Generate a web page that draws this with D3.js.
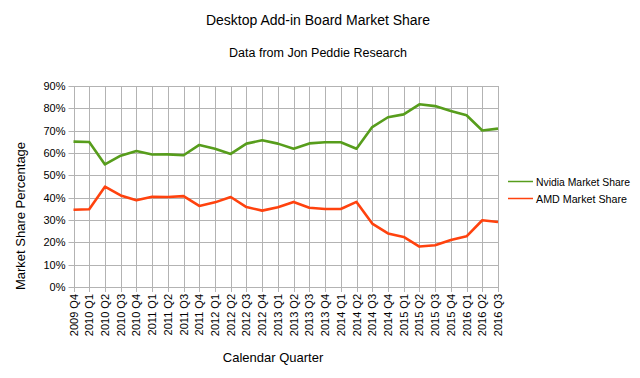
<!DOCTYPE html>
<html>
<head>
<meta charset="utf-8">
<script src="https://cdn.jsdelivr.net/npm/d3@7"></script>
<style>
  body { margin: 0; background: #fff; }
  svg { font-family: "Liberation Sans", Arial, sans-serif; }
</style>
</head>
<body>
<div class="chart"></div>
<script>
const quarters = ["2009 Q4", "2010 Q1", "2010 Q2", "2010 Q3", "2010 Q4", "2011 Q1", "2011 Q2", "2011 Q3",
    "2011 Q4", "2012 Q1", "2012 Q2", "2012 Q3", "2012 Q4", "2013 Q1", "2013 Q2", "2013 Q3", "2013 Q4",
    "2014 Q1", "2014 Q2", "2014 Q3", "2014 Q4", "2015 Q1", "2015 Q2", "2015 Q3", "2015 Q4", "2016 Q1",
    "2016 Q2", "2016 Q3"];
const nvidia = [65.1, 64.9, 54.9, 58.8, 60.9, 59.3, 59.4, 59.0, 63.6, 61.9, 59.6, 64.2, 65.7, 64.2,
    61.9, 64.3, 64.8, 64.8, 61.9, 71.6, 76.0, 77.3, 81.8, 81.0, 78.8, 76.9, 70.1, 70.9];
const amd = [34.6, 34.8, 44.9, 41.0, 38.8, 40.4, 40.3, 40.7, 36.3, 37.9, 40.3, 35.8, 34.2, 35.7,
    38.1, 35.5, 34.9, 34.9, 38.1, 28.4, 24.0, 22.4, 18.1, 18.7, 21.0, 22.7, 29.9, 29.1];
const yTicks = [0, 10, 20, 30, 40, 50, 60, 70, 80, 90];
const seriesNames = ["Nvidia Market Share", "AMD Market Share"];
const seriesColors = ["#579d1c", "#ff420e"];

const width = 640, height = 378;
const plotL = 73.5, plotR = 498, plotT = 86, plotB = 287;

const svg = d3.select(".chart").append("svg")
    .attr("width", width)
    .attr("height", height);

const x = d3.scalePoint().domain(quarters).range([plotL, plotR]);
const y = d3.scaleLinear().domain([0, 90]).range([plotB, plotT]);

// grid
svg.append("g").selectAll("line").data(yTicks).enter().append("line")
    .attr("x1", plotL - 5).attr("x2", plotR)
    .attr("y1", d => Math.round(y(d)) + 0.5).attr("y2", d => Math.round(y(d)) + 0.5)
    .attr("stroke", "#b3b3b3").attr("stroke-width", 1);
svg.append("g").selectAll("line").data(quarters).enter().append("line")
    .attr("x1", d => Math.round(x(d)) + 0.5).attr("x2", d => Math.round(x(d)) + 0.5)
    .attr("y1", plotT).attr("y2", plotB + 5)
    .attr("stroke", "#b3b3b3").attr("stroke-width", 1);

// y labels
svg.append("g").selectAll("text").data(yTicks).enter().append("text")
    .attr("x", plotL - 8).attr("y", d => y(d) + 4)
    .attr("text-anchor", "end").attr("font-size", 11).attr("fill", "#000")
    .text(d => d + "%");

// x labels
svg.append("g").selectAll("text").data(quarters).enter().append("text")
    .attr("transform", d => "translate(" + (x(d) + 4) + "," + (plotB + 7) + ") rotate(-90)")
    .attr("text-anchor", "end").attr("font-size", 11).attr("fill", "#000")
    .text(d => d);

// lines
const line = d3.line().x((d, i) => x(quarters[i])).y(d => y(d));
[nvidia, amd].forEach((s, k) => {
    svg.append("path").datum(s)
        .attr("d", line)
        .attr("fill", "none")
        .attr("stroke", seriesColors[k])
        .attr("stroke-width", 2.6)
        .attr("stroke-linejoin", "round");
});

// legend
seriesNames.forEach((n, k) => {
    const ly = 181.5 + k * 17;
    svg.append("line").attr("x1", 508).attr("x2", 533).attr("y1", ly).attr("y2", ly)
        .attr("stroke", seriesColors[k]).attr("stroke-width", 1.5);
    svg.append("text").attr("x", 536).attr("y", ly + 4.5)
        .attr("font-size", 11.5).attr("fill", "#000")
        .attr("textLength", k === 0 ? 94 : 91).attr("lengthAdjust", "spacingAndGlyphs")
        .text(n);
});

// titles
svg.append("text").attr("x", 318).attr("y", 25).attr("text-anchor", "middle")
    .attr("font-size", 14).attr("fill", "#000").text("Desktop Add-in Board Market Share");
svg.append("text").attr("x", 318).attr("y", 57).attr("text-anchor", "middle")
    .attr("font-size", 12.5).attr("fill", "#000").text("Data from Jon Peddie Research");
svg.append("text").attr("x", 273).attr("y", 362).attr("text-anchor", "middle")
    .attr("font-size", 13).attr("fill", "#000").text("Calendar Quarter");
svg.append("text").attr("transform", "translate(25,216) rotate(-90)").attr("text-anchor", "middle")
    .attr("font-size", 13).attr("fill", "#000").text("Market Share Percentage");
</script>
</body>
</html>
